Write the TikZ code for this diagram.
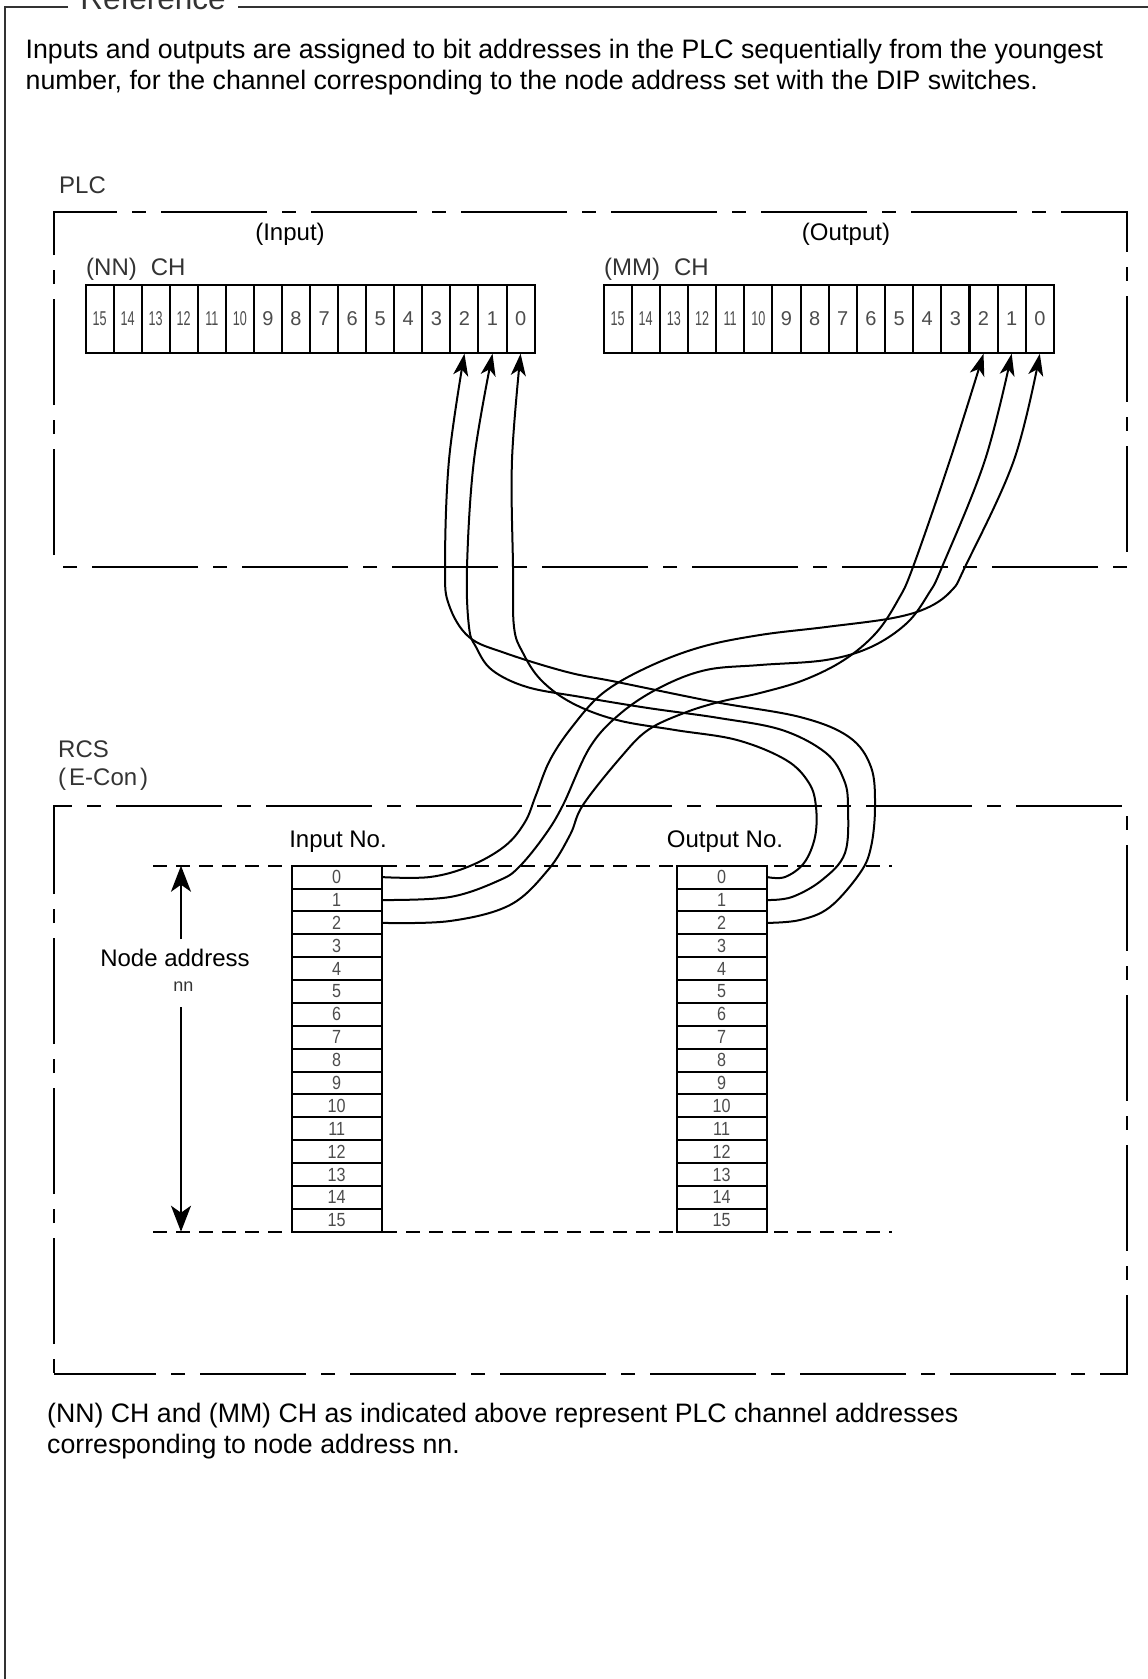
\documentclass[tikz,border=0pt]{standalone}
\usepackage{fontspec}
\setmainfont{Liberation Sans}
\newfontfamily\condfont[FakeStretch=0.63]{Liberation Sans}
\newfontfamily\rowfont[FakeStretch=0.85]{Liberation Sans}
\usepackage{tikz}
\usetikzlibrary{positioning,arrows.meta}
\newcommand\bitlabel[1]{\ifnum#1>9 {\condfont#1}\else#1\fi}
\tikzset{
  frame/.style  ={draw=black!80, line width=2pt},
  zone/.style   ={draw, line width=2.5pt, dash pattern=on 106pt off 15pt on 14pt off 15pt, dash phase=138pt},
  guide/.style  ={draw, line width=1.8pt, dash pattern=on 14pt off 9pt},
  bitcell/.style={draw, line width=2pt, fill=white, minimum width=28.07pt, minimum height=67.7pt, inner sep=0pt, text=black!70, font=\fontsize{20}{24}\selectfont},
  rowcell/.style={draw, line width=2pt, fill=white, minimum width=90pt, minimum height=22.9pt, inner sep=0pt, text=black!70, font=\rowfont\fontsize{19}{22}\selectfont},
  wire/.style   ={line width=2pt, -{Stealth[length=22pt, width=15pt, inset=6pt]}},
  dimarr/.style ={line width=2pt, -{Stealth[length=26pt, width=20pt, inset=7pt]}},
  txt/.style    ={font=\fontsize{26.7}{31}\selectfont, align=left, inner sep=0pt},
  lbl/.style    ={font=\fontsize{24}{28}\selectfont, inner sep=0pt},
  sys/.style    ={font=\fontsize{24}{27.5}\selectfont, text=black!80, align=left, inner sep=0pt},
}
\begin{document}
\begin{tikzpicture}[x=1pt, y=-1pt]
  \useasboundingbox (0,0) rectangle (1148,1679);
  \draw[frame] (68,7) -- (5,7) -- (5,1690);
  \draw[frame] (238,7) -- (1155,7);
  \node[font=\fontsize{31.5}{34}\selectfont, text=black!80, anchor=base] (title) at (153,9) {Reference};

  \node[txt, anchor=north west] (intro) at (25.5,39) {Inputs and outputs are assigned to bit addresses in the PLC sequentially from the youngest\\number, for the channel corresponding to the node address set with the DIP switches.};

  \draw[zone] (54,567) -- (54,212) -- (1127,212) -- (1127,567) -- cycle;
  \draw[zone, dash phase=120pt] (54,1374) -- (54,806) -- (1127,806) -- (1127,1374) -- cycle;
  \node[sys, anchor=base west] (plc) at (59,193) {PLC};
  \node[sys, anchor=north west] (rcs) at (58,741) {RCS\\(\hspace{3pt}E-Con\hspace{3pt})};

  \foreach \b in {0,...,15} {
    \node[bitcell] (pin\b)  at ({85.5+(15.5-\b)*28.07}, 318.85) {\bitlabel{\b}};
    \node[bitcell] (pout\b) at ({603.5+(15.5-\b)*28.15}, 318.85) {\bitlabel{\b}};
  }
  \node[lbl] (inhdr)  at (290,234) {(Input)};
  \node[lbl] (outhdr) at (846,234) {(Output)};
  \node[sys, anchor=west] (nnch) at (86,269) {(NN)\hspace{14pt}CH};
  \node[sys, anchor=west] (mmch) at (604,269) {(MM)\hspace{14pt}CH};

  \draw[guide] (153,865.7) -- (892,865.7);
  \draw[guide] (153,1231.7) -- (892,1231.7);
  \foreach \r in {0,...,15} {
    \node[rowcell] (rin\r)  at (336.7, {865.7+(\r+0.5)*22.875}) {\r};
    \node[rowcell] (rout\r) at (721.6, {865.7+(\r+0.5)*22.875}) {\r};
  }
  \node[lbl] (inno)  at (338,842) {Input No.};
  \node[lbl] (outno) at (725,842) {Output No.};

  \node[lbl] (naddr) at (175,958) {Node address};
  \node[sys, font=\fontsize{18}{20}\selectfont] (nn) at (183.5,987) {nn};
  \coordinate (natop) at (181,865.7);
  \coordinate (nabot) at (181,1231.7);
  \coordinate (na1) at (181,939);
  \coordinate (na2) at (181,1007);
  \draw[dimarr] (na1) -- (natop);
  \draw[dimarr] (na2) -- (nabot);

  \draw[wire] plot[smooth, tension=0.6] coordinates {(rin0.east) (430,877) (470,866) (505,846) (525,822) (536,795) (550,760) (572,727) (603,693) (648,667) (701,647) (760,635) (826,627) (893,618) (929,607) (952,590) (965,567) (1014,460) (pout0.south)};
  \draw[wire] plot[smooth, tension=0.6] coordinates {(rin1.east) (450,897) (500,880) (520,866) (545,835) (563,805) (590,747) (621,713) (661,687) (706,670) (760,665) (826,660) (871,647) (907,623) (929,593) (942,567) (985,460) (pout1.south)};
  \draw[wire] plot[smooth, tension=0.6] coordinates {(rin2.east) (450,921) (510,905) (548,870) (570,835) (583,805) (621,757) (648,730) (684,713) (719,702) (760,693) (804,680) (844,660) (876,633) (898,600) (913,567) (950,460) (pout2.south)};
  \draw[wire] plot[smooth, tension=0.6] coordinates {(rout0.east) (785,877) (804,863) (815,837) (816,807) (809,783) (786,760) (737,740) (675,730) (617,720) (572,703) (541,680) (523,653) (514,627) (513,567) (512,460) (pin0.south)};
  \draw[wire] plot[smooth, tension=0.6] coordinates {(rout1.east) (792,897) (822,880) (845,853) (848,807) (844,780) (826,753) (782,730) (719,718) (648,708) (581,697) (527,687) (492,670) (476,647) (469,627) (467,567) (474,460) (pin1.south)};
  \draw[wire] plot[smooth, tension=0.6] coordinates {(rout2.east) (800,920) (830,907) (860,873) (871,847) (875,807) (871,767) (849,737) (800,717) (715,702) (617,682) (567,672) (505,653) (469,637) (449,605) (445,567) (449,460) (pin2.south)};

  \node[txt, anchor=north west] (note) at (47,1403) {(NN) CH and (MM) CH as indicated above represent PLC channel addresses\\corresponding to node address nn.};
\end{tikzpicture}
\end{document}
